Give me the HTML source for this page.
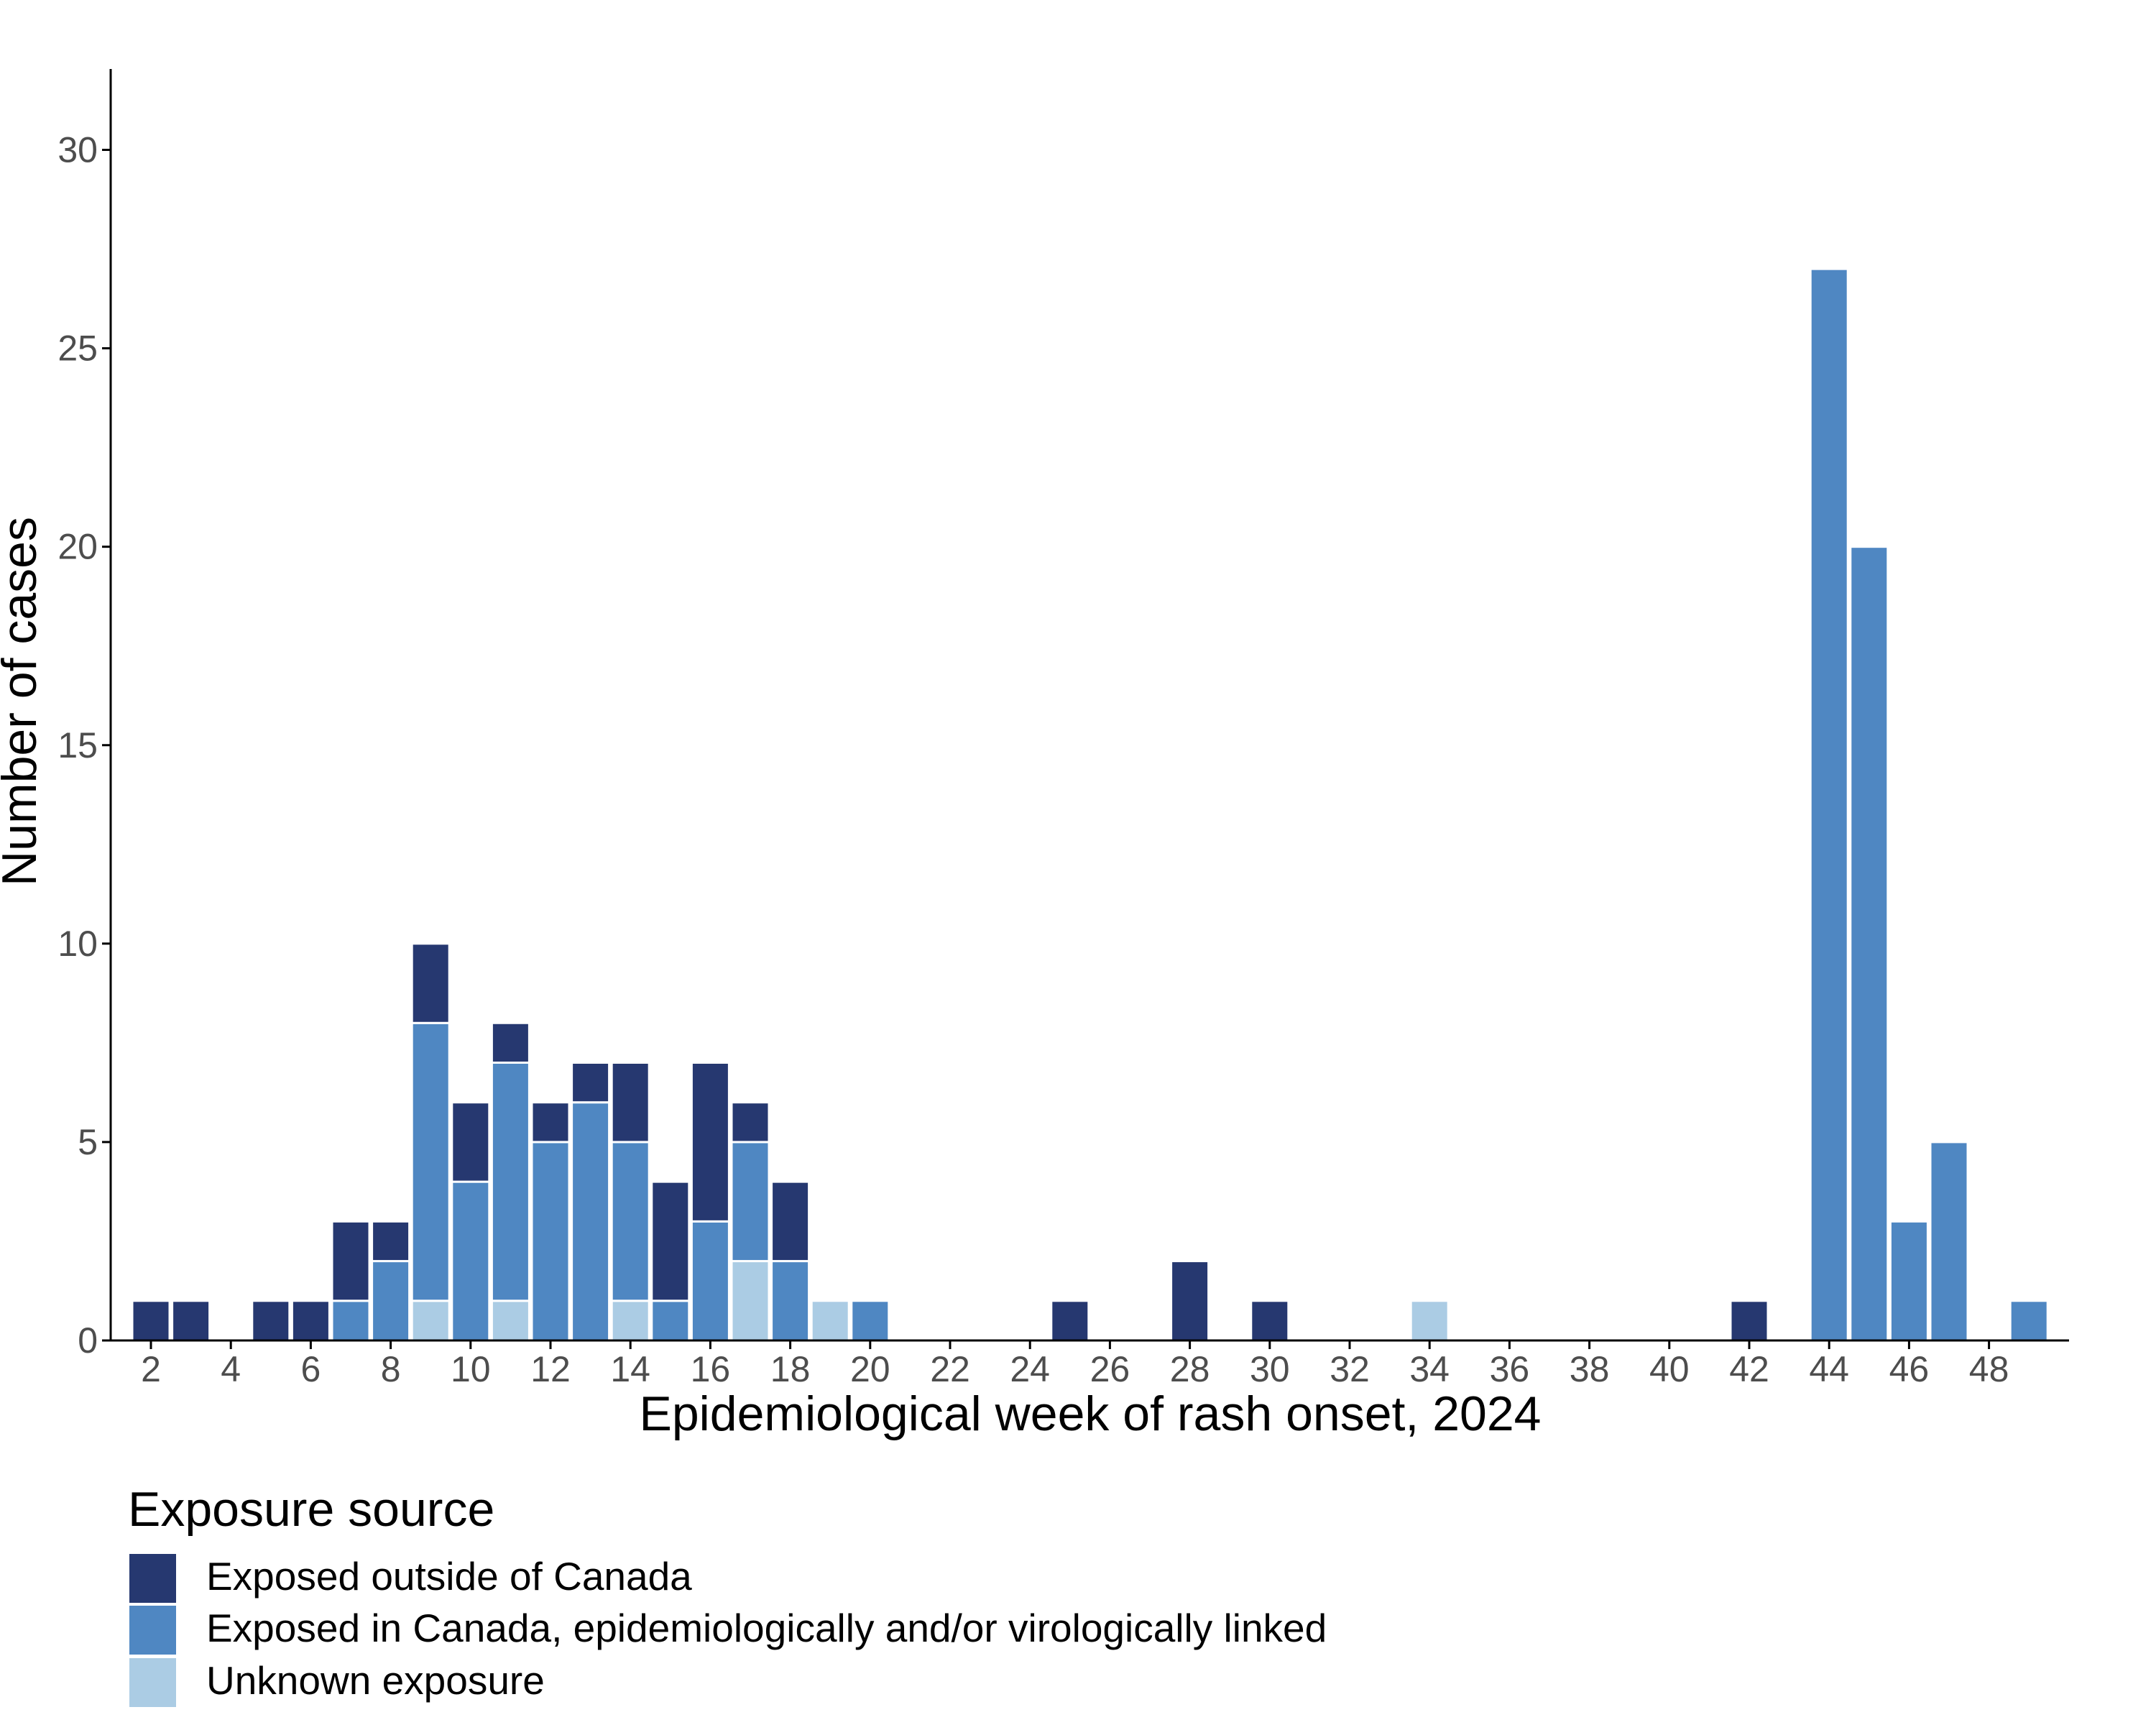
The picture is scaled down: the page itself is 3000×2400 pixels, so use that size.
<!DOCTYPE html>
<html><head><meta charset="utf-8"><style>
body{margin:0;background:#fff}
svg{display:block;font-family:"Liberation Sans",sans-serif}
</style></head><body>
<svg id="chart" width="3000" height="2400" viewBox="0 0 3000 2400">
<g id="bars"></g>
<g id="axes"></g>
<text x="1517" y="1990" font-size="68" text-anchor="middle" fill="#000">Epidemiological week of rash onset, 2024</text>
<text transform="translate(50,976) rotate(-90)" font-size="68" text-anchor="middle" fill="#000">Number of cases</text>
<g>
<text x="178" y="2123" font-size="68" fill="#000">Exposure source</text>
<rect x="180" y="2162" width="65" height="68" fill="#263870"/>
<rect x="180" y="2234" width="65" height="68" fill="#4f87c2"/>
<rect x="180" y="2307" width="65" height="68" fill="#abcce4"/>
<text x="287" y="2212" font-size="55" fill="#000">Exposed outside of Canada</text>
<text x="287" y="2284" font-size="55" fill="#000">Exposed in Canada, epidemiologically and/or virologically linked</text>
<text x="287" y="2357" font-size="55" fill="#000">Unknown exposure</text>
</g>
</svg>
<script>
const weeks   = [2,3,5,6,7,8,9,10,11,12,13,14,15,16,17,18,19,20,25,28,30,34,42,44,45,46,47,49];
const outside = [1,1,1,1,2,1,2,2,1,1,1,2,3,4,1,2,0,0,1,2,1,0,1,0,0,0,0,0];
const canada  = [0,0,0,0,1,2,7,4,6,5,6,4,1,3,3,2,0,1,0,0,0,0,0,27,20,3,5,1];
const unknown = [0,0,0,0,0,0,1,0,1,0,0,1,0,0,2,0,1,0,0,0,0,1,0,0,0,0,0,0];
const yTicks = [0,5,10,15,20,25,30];
const xTicks = [2,4,6,8,10,12,14,16,18,20,22,24,26,28,30,32,34,36,38,40,42,44,46,48];
const NS="http://www.w3.org/2000/svg";
const x = w => 210 + (w-2)*55.6;
const y = v => 1865 - v*(1656.5/30);
const bw = 52;
const bars=document.getElementById('bars');
function rect(x0,y0,w,h,fill,name){const r=document.createElementNS(NS,'rect');
r.setAttribute('x',x0);r.setAttribute('y',y0);r.setAttribute('width',w);r.setAttribute('height',h);r.setAttribute('fill',fill);
r.setAttribute('stroke','#fff');r.setAttribute('stroke-width','3');


bars.appendChild(r);}
weeks.forEach((w,i)=>{
  let base=0;
  const segs=[[unknown[i],'#abcce4','unknown'],[canada[i],'#4f87c2','canada'],[outside[i],'#263870','outside']];
  segs.forEach(s=>{ if(s[0]>0){ rect(x(w)-bw/2, y(base+s[0]), bw, y(base)-y(base+s[0]), s[1], 'bar-week'+w+'-'+s[2]); base+=s[0]; } });
});
const ax=document.getElementById('axes');
function line(x1,y1,x2,y2,name){const l=document.createElementNS(NS,'line');
l.setAttribute('x1',x1);l.setAttribute('y1',y1);l.setAttribute('x2',x2);l.setAttribute('y2',y2);
l.setAttribute('stroke','#000');l.setAttribute('stroke-width','3');


ax.appendChild(l);}
function text(tx,ty,s,anchor,name){const t=document.createElementNS(NS,'text');
t.setAttribute('x',tx);t.setAttribute('y',ty);t.setAttribute('font-size','50');t.setAttribute('fill','#4d4d4d');t.setAttribute('text-anchor',anchor);t.textContent=s;


ax.appendChild(t);}
line(154,96,154,1866,'y-axis-line');
line(153,1865,2879,1865,'x-axis-line');
yTicks.forEach(v=>{line(142,y(v),154,y(v),'y-tick');text(136,y(v)+17,String(v),'end','y-tick-label');});
xTicks.forEach(w=>{line(x(w),1865,x(w),1877,'x-tick');text(x(w),1922,String(w),'middle','x-tick-label');});
</script>
</body></html>
